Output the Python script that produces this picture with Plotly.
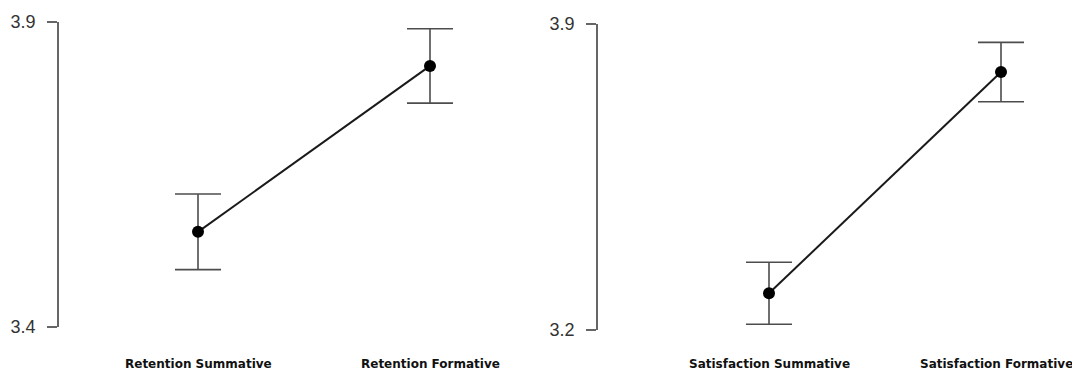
import plotly.graph_objects as go

# Interaction means with standard errors
ret_labels = ["Retention Summative", "Retention Formative"]
ret_means = [3.556, 3.828]
ret_err = [0.062, 0.061]

sat_labels = ["Satisfaction Summative", "Satisfaction Formative"]
sat_means = [3.284, 3.790]
sat_err = [0.071, 0.068]

ret_ticks = [3.4, 3.9]
sat_ticks = [3.2, 3.9]

W, H = 1072, 373

fig = go.Figure()

def add_panel(labels, means, err, xa, ya):
    fig.add_trace(go.Scatter(
        x=labels, y=means, mode="lines+markers",
        xaxis=xa, yaxis=ya,
        line=dict(color="#1a1a1a", width=2),
        marker=dict(color="black", size=12),
        error_y=dict(type="data", array=err, visible=True,
                     color="#4d4d4d", thickness=1.6, width=23),
        cliponaxis=False, showlegend=False,
    ))

add_panel(ret_labels, ret_means, ret_err, "x", "y")
add_panel(sat_labels, sat_means, sat_err, "x2", "y2")

tick_font = dict(family="Liberation Sans, Arial, sans-serif", size=18, color="#333333")
cat_font = dict(family="DejaVu Sans, Verdana, sans-serif", size=12, color="#111111", weight="bold")

def yaxis_cfg(ticks, top_px, bot_px, anchor):
    return dict(
        domain=[(H - bot_px) / H, (H - top_px) / H], anchor=anchor,
        range=ticks, tickvals=ticks, ticktext=[f"{t:.1f}" for t in ticks],
        showline=True, linecolor="#666666", linewidth=1.5,
        ticks="outside", ticklen=10, tickwidth=1.5, tickcolor="#666666",
        ticklabelstandoff=8, automargin=False,
        showgrid=False, zeroline=False, tickfont=tick_font,
    )

def xaxis_cfg(left_px, right_px, first_cat_px, anchor, cats):
    step = 232.0
    start = -(first_cat_px - left_px) / step
    end = start + (right_px - left_px) / step
    return dict(
        domain=[left_px / W, right_px / W], anchor=anchor,
        range=[start, end], type="category", categoryarray=cats,
        showline=False, showgrid=False, zeroline=False, ticks="",
        showticklabels=False, automargin=False,
    )

# Category names written under each condition
label_y = (H - 364) / H
annotations = []
for xref, cats in (("x", ret_labels), ("x2", sat_labels)):
    for i, c in enumerate(cats):
        shift = -5 if (xref == "x2" and i == 1) else 0
        annotations.append(dict(
            x=c, xref=xref, y=label_y, yref="paper",
            text=c, showarrow=False, xanchor="center", yanchor="middle",
            xshift=shift, font=cat_font,
        ))

fig.update_layout(
    width=W, height=H,
    margin=dict(l=0, r=0, t=0, b=0, autoexpand=False),
    paper_bgcolor="white", plot_bgcolor="white",
    xaxis=xaxis_cfg(59, 540, 198, "y", ret_labels),
    yaxis=yaxis_cfg(ret_ticks, 22, 327, "x"),
    xaxis2=xaxis_cfg(598, 1062, 769, "y2", sat_labels),
    yaxis2=yaxis_cfg(sat_ticks, 24, 330, "x2"),
    annotations=annotations,
)

fig.write_html("out.html")
